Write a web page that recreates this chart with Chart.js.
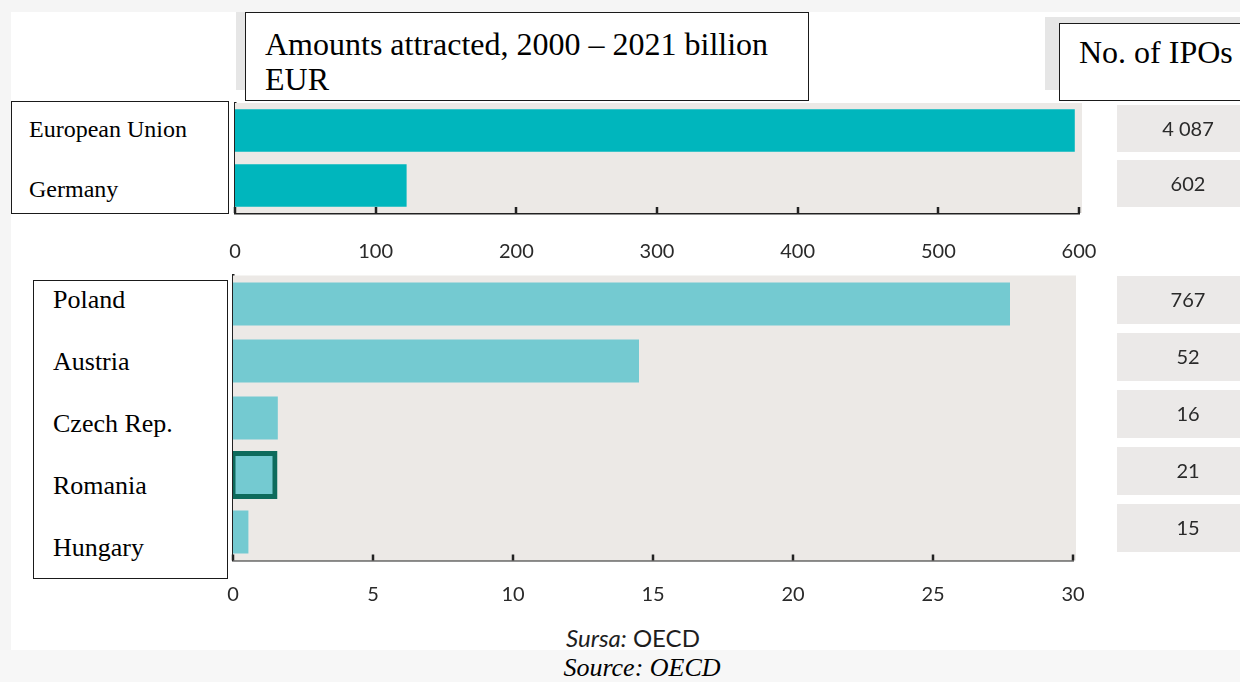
<!DOCTYPE html>
<html>
<head>
<meta charset="utf-8">
<script src="https://cdn.jsdelivr.net/npm/chart.js@4"></script>
<style>
  html, body { margin: 0; padding: 0; }
  body { width: 1240px; height: 682px; position: relative; overflow: hidden; background: #ffffff; font-family: "Liberation Serif", "Times New Roman", serif; }
  .abs { position: absolute; }
  .serif { font-family: "Liberation Serif", "Times New Roman", serif; color: #000; line-height: 1; white-space: nowrap; }
  .box { position: absolute; background: #fff; border: 1.5px solid #1a1a1a; box-sizing: border-box; }
  canvas { position: absolute; }
</style>
</head>
<body>
<!-- outer light frame -->
<div class="abs" style="left:0;top:0;width:1240px;height:12px;background:#f5f5f5"></div>
<div class="abs" style="left:0;top:0;width:11px;height:682px;background:#f5f5f5"></div>
<div class="abs" style="left:0;top:650px;width:1240px;height:32px;background:#f7f7f7"></div>

<!-- header cells behind the text boxes -->
<div class="abs" style="left:236px;top:12px;width:30px;height:78px;background:#e6e6e6"></div>
<div class="abs" style="left:1045px;top:17px;width:195px;height:73px;background:#e6e6e6"></div>

<canvas id="top" width="1240" height="190" style="left:0;top:90px;width:1240px;height:190px"></canvas>
<canvas id="bottom" width="1240" height="360" style="left:0;top:262px;width:1240px;height:360px"></canvas>

<div class="box" style="left:245px;top:12px;width:564px;height:89px"></div>
<div class="abs serif" style="left:265px;top:27px;font-size:32px;line-height:35px">Amounts attracted, 2000 – 2021 billion<br>EUR</div>

<div class="box" style="left:1059px;top:23px;width:200px;height:78px"></div>
<div class="abs serif" style="left:1079px;top:36px;font-size:32px">No. of IPOs</div>

<div class="box" style="left:11px;top:101px;width:218px;height:113px"></div>
<div id="topLabels"></div>
<div class="box" style="left:33px;top:280px;width:195px;height:299px"></div>
<div id="bottomLabels"></div>

<div class="abs" style="left:633px;top:626px;transform:translateX(-50%);font-family:Lato,'Liberation Sans',sans-serif;font-size:24px;line-height:1;color:#1e1e1e;white-space:nowrap"><i>Sursa:</i> OECD</div>
<div class="abs serif" style="left:642px;top:655px;transform:translateX(-50%);font-size:26px;font-style:italic">Source: OECD</div>

<script>
// ---------- data ----------
const topCategories = ["European Union", "Germany"];
const topValues = [597, 122];          // billion EUR, 2000-2021
const topIPOs = ["4 087", "602"];
const topTicks = [0, 100, 200, 300, 400, 500, 600];

const bottomCategories = ["Poland", "Austria", "Czech Rep.", "Romania", "Hungary"];
const bottomValues = [27.75, 14.5, 1.6, 1.5, 0.55];
const bottomIPOs = ["767", "52", "16", "21", "15"];
const bottomTicks = [0, 5, 10, 15, 20, 25, 30];
const highlighted = "Romania";

// ---------- category labels (overlay text boxes) ----------
function addLabels(containerId, cats, x, firstTop, step, size) {
  const c = document.getElementById(containerId);
  cats.forEach((t, i) => {
    const d = document.createElement('div');
    d.className = 'abs serif';
    d.style.left = x + 'px';
    d.style.top = (firstTop + i * step) + 'px';
    d.style.fontSize = size + 'px';
    d.textContent = t;
    c.appendChild(d);
  });
}
addLabels('topLabels', topCategories, 29, 117, 60, 24);
addLabels('bottomLabels', bottomCategories, 53, 287, 62, 26);

// ---------- plugins ----------
const decor = {
  id: 'decor',
  beforeDatasetsDraw(chart) {
    const {ctx, chartArea: a} = chart;
    ctx.save();
    ctx.fillStyle = '#ece9e6';
    ctx.fillRect(a.left, a.top, a.right - a.left + 3, a.bottom - a.top);
    ctx.restore();
  },
  afterDraw(chart, args, opts) {
    const {ctx, chartArea: a} = chart;
    const xs = chart.scales.x, ys = chart.scales.y;
    ctx.save();
    // inward tick marks
    ctx.strokeStyle = '#222';
    ctx.lineWidth = 2.5;
    xs.ticks.forEach(t => {
      const px = Math.round(xs.getPixelForValue(t.value));
      ctx.beginPath();
      ctx.moveTo(px, a.bottom);
      ctx.lineTo(px, a.bottom - 6);
      ctx.stroke();
    });
    // IPO number cells
    const ipos = opts.ipos;
    ctx.font = '20px Lato, "Liberation Sans", sans-serif';
    ctx.textAlign = 'center';
    ctx.textBaseline = 'middle';
    ipos.forEach((v, i) => {
      const cy = ys.getPixelForValue(i) + opts.shift;
      ctx.fillStyle = '#ebe9e8';
      ctx.fillRect(1117, cy - opts.cellH / 2, 123, opts.cellH);
      ctx.fillStyle = '#2a2a2a';
      ctx.fillText(v, 1188, cy + 1);
    });
    ctx.restore();
  }
};

function makeChart(id, cats, vals, ticks, maxV, color, ipos, opt) {
  return new Chart(document.getElementById(id), {
    type: 'bar',
    data: {
      labels: cats,
      datasets: [{
        data: vals,
        backgroundColor: color,
        borderColor: cats.map(c => c === highlighted ? '#0e6b5c' : 'rgba(0,0,0,0)'),
        borderWidth: cats.map(c => c === highlighted ? 5 : 0),
        borderSkipped: false,
        inflateAmount: ctx => (cats[ctx.dataIndex] === highlighted ? 2.5 : 0),
        barPercentage: opt.barPct,
        categoryPercentage: 1
      }]
    },
    options: {
      indexAxis: 'y',
      responsive: false,
      animation: false,
      events: [],
      layout: { padding: { left: opt.left, right: 1240 - opt.right, top: opt.padTop, bottom: 0 } },
      plugins: { legend: { display: false }, tooltip: { enabled: false }, decor: { ipos: ipos, shift: opt.shift, cellH: opt.cellH } },
      scales: {
        x: {
          type: 'linear', min: 0, max: maxV,
          afterBuildTicks: s => { s.ticks = ticks.map(v => ({ value: v })); },
          grid: { display: false, drawTicks: false },
          border: { display: true, color: '#222', width: 2.5 },
          ticks: { padding: opt.tickPad, color: '#2a2a2a', font: { family: 'Lato, "Liberation Sans", sans-serif', size: 20 } },
          afterFit: s => { s.height = opt.xH; }
        },
        y: {
          type: 'category',
          grid: { display: false, drawTicks: false },
          border: { display: true, color: '#222', width: 2.5 },
          ticks: { display: false },
          afterFit: s => { s.width = 0; }
        }
      }
    },
    plugins: [decor]
  });
}

makeChart('top', topCategories, topValues, topTicks, 600, '#00b6bd', topIPOs,
  { left: 235, right: 1079, padTop: 13, xH: 67, barPct: 0.77, shift: -2, cellH: 47, tickPad: 27 });
makeChart('bottom', bottomCategories, bottomValues, bottomTicks, 30, '#74cad1', bottomIPOs,
  { left: 233, right: 1073, padTop: 13.5, xH: 61.5, barPct: 0.755, shift: -4, cellH: 48, tickPad: 22 });
</script>
</body>
</html>
